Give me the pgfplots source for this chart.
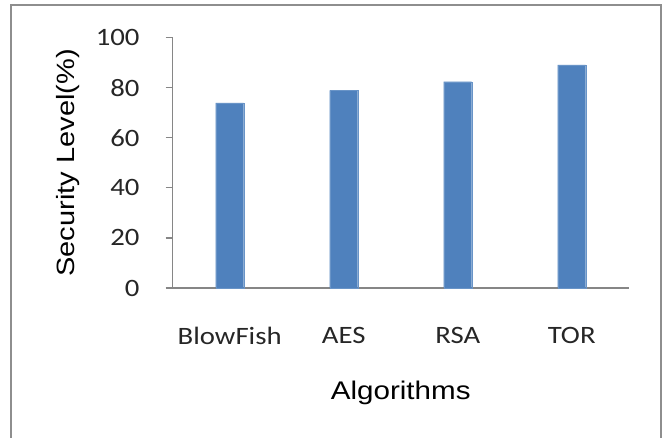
\documentclass[border=0pt]{standalone}
\usepackage{pgfplots}
\pgfplotsset{compat=1.18}
\usepackage{fontspec}
\setmainfont{Carlito}
\newfontfamily\calst[FakeStretch=1.15]{Carlito}
\newfontfamily\arst[FakeStretch=1.16]{Liberation Sans}
\definecolor{barblue}{HTML}{4F81BD}
\definecolor{axgray}{HTML}{868686}
\definecolor{framegray}{HTML}{8E8E8E}
\begin{document}
\begin{tikzpicture}[x=1pt,y=1pt]
\useasboundingbox (0,0) rectangle (668,438);
\draw[framegray, line width=2pt] (11,-20) -- (11,433) -- (660.5,433) -- (660.5,-20);
\begin{axis}[
  at={(172.7pt,150pt)}, anchor=south west,
  scale only axis, width=456pt, height=250.3pt,
  xmin=-0.5, xmax=3.5, ymin=0, ymax=100,
  axis x line*=bottom, axis y line*=left,
  axis line style={axgray, line width=1.2pt},
  xtick=data, xticklabels={BlowFish,AES,RSA,TOR},
  xtick style={draw=none},
  ytick={0,20,40,60,80,100},
  ytick style={axgray, line width=1.2pt},
  tick align=outside, major tick length=7pt,
  /pgf/number format/assume math mode=true,
  yticklabel style={font=\calst\fontsize{25}{30}\selectfont, anchor=east, inner sep=0pt, xshift=-26pt, text=black!85},
  xticklabel style={font=\calst\fontsize{25}{30}\selectfont, anchor=north, inner sep=0pt, yshift=-32pt, text=black!85},
  xlabel={Algorithms},
  ylabel={Security Level(\%)},
  xlabel style={at={(axis description cs:0.5,0)}, anchor=north, inner sep=0pt, yshift=-93pt, font=\arst\fontsize{25.5}{30}\selectfont},
  ylabel style={at={(axis description cs:0,0.5)}, anchor=south, inner sep=0pt, yshift=93pt, font=\arst\fontsize{25}{30}\selectfont},
  clip=false,
]
\addplot[ybar, bar width=28pt, fill=barblue, draw=barblue!85!white] coordinates {(0,74.0) (1,79.0) (2,82.4) (3,89.1)};
\end{axis}
\end{tikzpicture}
\end{document}
